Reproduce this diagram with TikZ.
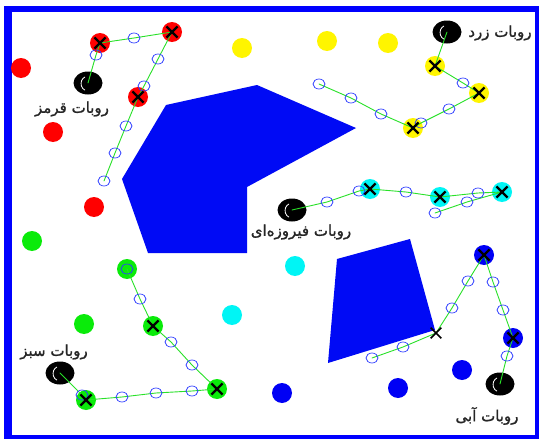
\documentclass[tikz,border=0pt]{standalone}
\usepackage{fontspec}
\newfontfamily\farsi[Script=Arabic,FakeBold=1.2]{DejaVu Sans}
\TeXXeTstate=1
\usetikzlibrary{shapes.geometric,shapes.misc}
\definecolor{trailgreen}{RGB}{40,225,40}
\definecolor{wpblue}{RGB}{45,60,255}
\definecolor{obst}{RGB}{0,10,245}
\definecolor{dotred}{RGB}{255,0,0}
\definecolor{dotyellow}{RGB}{255,245,0}
\definecolor{dotgreen}{RGB}{10,235,10}
\definecolor{dotcyan}{RGB}{0,245,245}
\definecolor{dotblue}{RGB}{0,0,245}
\pgfdeclarelayer{back}
\pgfdeclarelayer{front}
\pgfsetlayers{back,main,front}
\begin{document}
\begin{tikzpicture}[x=1pt,y=-1pt,line cap=round,line join=round,
  robot/.style={ellipse,fill=black,minimum width=29pt,minimum height=23pt,inner sep=0pt,
    path picture={\draw[white,line width=0.8pt] ([xshift=-3pt,yshift=6pt]path picture bounding box.center)
      arc[start angle=110,end angle=250,x radius=6pt,y radius=7pt];}},
  wp/.style={ellipse,draw=wpblue,line width=0.7pt,minimum width=12pt,minimum height=10pt,inner sep=0pt},
  hit/.style={cross out,draw=black,line width=2.2pt,minimum size=9pt,inner sep=0pt},
  trail/.style={draw=trailgreen,line width=0.9pt},
  rname/.style={font=\farsi\fontsize{15}{17}\selectfont,text=black!85,inner sep=0pt}]
  \useasboundingbox (0,0) rectangle (539,439);
  \begin{pgfonlayer}{back}
    % frame
    \fill[blue] (4,6) rectangle (539,439);
    \fill[white] (12,12) rectangle (535,435);
    % obstacles
    \fill[obst] (257,85) -- (356,128) -- (247,187) -- (247,253) -- (148,253) -- (122,179) -- (166,105) -- cycle;
    \fill[obst] (337,259) -- (410,239) -- (435,330) -- (328,363) -- cycle;
    % targets
    \foreach \p in {(21,68),(53,132),(94,207),(100,43),(172,32),(138,97)} \fill[dotred] \p circle (10);
    \foreach \p in {(242,48),(327,41),(388,43),(435,66),(479,93),(413,128)} \fill[dotyellow] \p circle (10);
    \foreach \p in {(32,241),(84,324),(86,400),(217,389),(153,326),(127,269)} \fill[dotgreen] \p circle (10);
    \foreach \p in {(232,315),(295,266),(370,189),(440,197),(502,192)} \fill[dotcyan] \p circle (10);
    \foreach \p in {(282,393),(398,388),(462,370),(484,255),(513,338)} \fill[dotblue] \p circle (10);
    % robots
    \node[robot] (R0) at (88,83) {};
    \node[robot] (Y0) at (447,32) {};
    \node[robot] (C0) at (292,210) {};
    \node[robot] (G0) at (60,373) {};
    \node[robot] (B0) at (500,384) {};
  \end{pgfonlayer}

  \begin{pgfonlayer}{front}
    % red robot
    \node[wp] (r1) at (96,55) {};
    \node[hit] (rx1) at (100,43) {};
    \node[wp] (r2) at (134,38) {};
    \node[hit] (rx2) at (172,32) {};
    \node[wp] (r3) at (158,59) {};
    \node[wp] (r4) at (144,86) {};
    \node[hit] (rx3) at (138,97) {};
    \node[wp] (r5) at (126,126) {};
    \node[wp] (r6) at (115,153) {};
    \node[wp] (r7) at (104,181) {};
    % yellow robot
    \node[hit] (yx1) at (435,66) {};
    \node[wp] (y1) at (463,83) {};
    \node[hit] (yx2) at (479,93) {};
    \node[wp] (y2) at (449,109) {};
    \node[wp] (y3) at (421,123) {};
    \node[hit] (yx3) at (413,128) {};
    \node[wp] (y4) at (381,114) {};
    \node[wp] (y5) at (351,98) {};
    \node[wp] (y6) at (319,84) {};
    % cyan robot
    \node[wp] (c1) at (327,202) {};
    \node[wp] (c2) at (359,191) {};
    \node[hit] (cx1) at (370,189) {};
    \node[wp] (c3) at (406,192) {};
    \node[hit] (cx2) at (440,197) {};
    \node[wp] (c4) at (478,193) {};
    \node[hit] (cx3) at (502,192) {};
    \node[wp] (c5) at (467,202) {};
    \node[wp] (c6) at (435,213) {};
    % green robot
    \node[wp] (g0) at (82,395) {};
    \node[hit] (gx1) at (86,400) {};
    \node[wp] (g1) at (122,397) {};
    \node[wp] (g2) at (156,393) {};
    \node[wp] (g3) at (192,391) {};
    \node[hit] (gx2) at (217,389) {};
    \node[wp] (g4) at (192,365) {};
    \node[wp] (g5) at (171,342) {};
    \node[hit] (gx3) at (153,326) {};
    \node[wp] (g6) at (140,299) {};
    \node[wp] (g7) at (127,269) {};
    % blue robot
    \node[wp] (b1) at (507,356) {};
    \node[hit] (bx1) at (513,338) {};
    \node[wp] (b2) at (503,310) {};
    \node[wp] (b3) at (493,282) {};
    \node[hit] (bx2) at (484,255) {};
    \node[wp] (b4) at (468,281) {};
    \node[wp] (b5) at (452,308) {};
    \node[hit,line width=1.6pt] (bx3) at (436,333) {};
    \node[wp] (b6) at (403,347) {};
    \node[wp] (b7) at (372,358) {};
  \end{pgfonlayer}

  % trails
  \draw[trail] (R0.center) \foreach \p in {r1,rx1,r2,rx2,r3,r4,rx3,r5,r6,r7} {-- (\p.center)};
  \draw[trail] (Y0.center) \foreach \p in {yx1,y1,yx2,y2,y3,yx3,y4,y5,y6} {-- (\p.center)};
  \draw[trail] (C0.center) \foreach \p in {c1,c2,cx1,c3,cx2,c4,cx3,c5,c6} {-- (\p.center)};
  \draw[trail] (G0.center) \foreach \p in {g0,gx1,g1,g2,g3,gx2,g4,g5,gx3,g6,g7} {-- (\p.center)};
  \draw[trail] (B0.center) \foreach \p in {b1,bx1,b2,b3,bx2,b4,b5,bx3,b6,b7} {-- (\p.center)};

  % names
  \node[rname] (Rlab) at (72,109) {\beginR روبات قرمز\endR};
  \node[rname] (Ylab) at (500,33) {\beginR روبات زرد\endR};
  \node[rname] (Clab) at (301,232) {\beginR روبات فیروزه^^^^200cای\endR};
  \node[rname] (Glab) at (54,352) {\beginR روبات سبز\endR};
  \node[rname] (Blab) at (487,416) {\beginR روبات آبی\endR};
\end{tikzpicture}
\end{document}
